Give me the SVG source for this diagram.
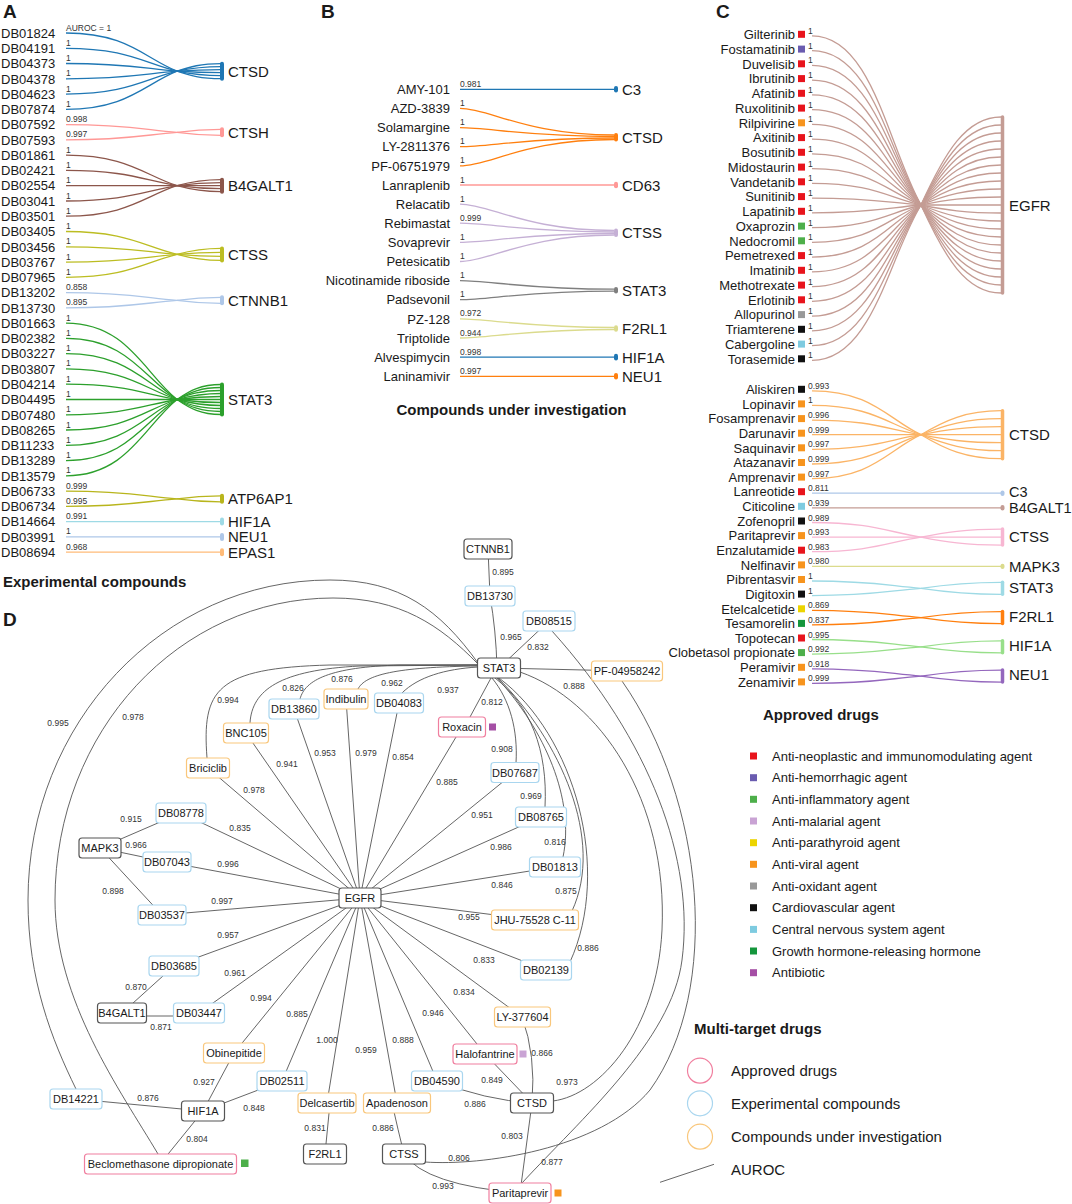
<svg xmlns="http://www.w3.org/2000/svg" width="1072" height="1204" viewBox="0 0 1072 1204">
<style>
text{font-family:'Liberation Sans',Arial,Helvetica,sans-serif;fill:#1a1a1a}
.pl{font-size:19px;font-weight:700}
.ti{font-size:15px;font-weight:700}
.s{font-size:13px}
.r{text-anchor:end}
.v{font-size:8.5px;fill:#333}
.tg{font-size:15px}
.ln path{fill:none;stroke-width:1.3}
.ln path.bar{fill:none;stroke-width:4;stroke-linecap:round}
.e path{fill:none;stroke:#555;stroke-width:0.9}
.el text{font-size:8.5px;text-anchor:middle;fill:#333}
.nd rect{fill:#fff;stroke-width:1.2}
.nd rect.sq{stroke:none}
.gn rect{stroke:#555}
.ex rect{stroke:#a9d6ef}
.iv rect{stroke:#f9c77c}
.ap rect{stroke:#f07f9f}
.nd text{font-size:11px;text-anchor:middle}
.c-red{fill:#e8141c}.c-pur{fill:#6a5cb0}.c-grn{fill:#4daf4a}.c-lpu{fill:#c9a3d4}.c-yel{fill:#ecd400}.c-org{fill:#f7941d}.c-gry{fill:#999}.c-blk{fill:#111}.c-lbl{fill:#7ecbe0}.c-dgr{fill:#14963c}.c-vio{fill:#a54fa5}
</style>

<!-- ================= PANEL A ================= -->
<g id="panelA">
<text class="pl" x="3" y="18">A</text>
<g class="ln" id="A-connectors">
<g stroke="#1f77b4">
<path d="M66 33C127 33 144 57.8 177 71.2C190 75.7 201 78.7 221 78.7"/>
<path d="M66 48.3C127 48.3 144 63.2 177 71.2C190 73.9 201 75.7 221 75.7"/>
<path d="M66 63.5C127 63.5 144 68.5 177 71.2C190 72.1 201 72.7 221 72.7"/>
<path d="M66 78.8C127 78.8 144 73.9 177 71.2C190 70.3 201 69.7 221 69.7"/>
<path d="M66 94.1C127 94.1 144 79.2 177 71.2C190 68.5 201 66.7 221 66.7"/>
<path d="M66 109.4C127 109.4 144 84.6 177 71.2C190 66.7 201 63.7 221 63.7"/>
<path class="bar" d="M222 63.7V78.7"/>
</g>
<g stroke="#ff9896">
<path d="M66 124.6C127 124.6 144 129.6 177 132.3C190 134.1 201 135.3 221 135.3"/>
<path d="M66 139.9C127 139.9 144 135 177 132.3C190 130.5 201 129.3 221 129.3"/>
<path class="bar" d="M222 129.3V135.3"/>
</g>
<g stroke="#8c564b">
<path d="M66 155.2C127 155.2 144 175 177 185.7C190 189.3 201 191.7 221 191.7"/>
<path d="M66 170.4C127 170.4 144 180.3 177 185.7C190 187.5 201 188.7 221 188.7"/>
<path d="M66 185.7H221"/>
<path d="M66 201C127 201 144 191.1 177 185.7C190 183.9 201 182.7 221 182.7"/>
<path d="M66 216.2C127 216.2 144 196.4 177 185.7C190 182.1 201 179.7 221 179.7"/>
<path class="bar" d="M222 179.7V191.7"/>
</g>
<g stroke="#bcbd22">
<path d="M66 231.5C127 231.5 144 246.4 177 254.4C190 258 201 260.4 221 260.4"/>
<path d="M66 246.8C127 246.8 144 251.7 177 254.4C190 255.6 201 256.4 221 256.4"/>
<path d="M66 262.1C127 262.1 144 257.1 177 254.4C190 253.2 201 252.4 221 252.4"/>
<path d="M66 277.3C127 277.3 144 262.4 177 254.4C190 250.8 201 248.4 221 248.4"/>
<path class="bar" d="M222 248.4V260.4"/>
</g>
<g stroke="#aec7e8">
<path d="M66 292.6C127 292.6 144 297.6 177 300.3C190 302.1 201 303.3 221 303.3"/>
<path d="M66 307.9C127 307.9 144 303 177 300.3C190 298.5 201 297.3 221 297.3"/>
<path class="bar" d="M222 297.3V303.3"/>
</g>
<g stroke="#2ca02c">
<path d="M66 323.1C127 323.1 144 372.8 177 399.5C190 408.5 201 414.5 221 414.5"/>
<path d="M66 338.4C127 338.4 144 378.1 177 399.5C190 406.7 201 411.5 221 411.5"/>
<path d="M66 353.7C127 353.7 144 383.5 177 399.5C190 404.9 201 408.5 221 408.5"/>
<path d="M66 368.9C127 368.9 144 388.8 177 399.5C190 403.1 201 405.5 221 405.5"/>
<path d="M66 384.2C127 384.2 144 394.1 177 399.5C190 401.3 201 402.5 221 402.5"/>
<path d="M66 399.5H221"/>
<path d="M66 414.8C127 414.8 144 404.9 177 399.5C190 397.7 201 396.5 221 396.5"/>
<path d="M66 430C127 430 144 410.2 177 399.5C190 395.9 201 393.5 221 393.5"/>
<path d="M66 445.3C127 445.3 144 415.5 177 399.5C190 394.1 201 390.5 221 390.5"/>
<path d="M66 460.6C127 460.6 144 420.9 177 399.5C190 392.3 201 387.5 221 387.5"/>
<path d="M66 475.8C127 475.8 144 426.2 177 399.5C190 390.5 201 384.5 221 384.5"/>
<path class="bar" d="M222 384.5V414.5"/>
</g>
<g stroke="#b8b51c">
<path d="M66 491.1C127 491.1 144 496.1 177 498.8C190 500.6 201 501.8 221 501.8"/>
<path d="M66 506.4C127 506.4 144 501.5 177 498.8C190 497 201 495.8 221 495.8"/>
<path class="bar" d="M222 495.8V501.8"/>
</g>
<g stroke="#9edae5"><path d="M66 521.6H221"/><path class="bar" d="M222 519.6V523.6"/></g>
<g stroke="#aec7e8"><path d="M66 536.9H221"/><path class="bar" d="M222 534.9V538.9"/></g>
<g stroke="#ffbb78"><path d="M66 552.2H221"/><path class="bar" d="M222 550.2V554.2"/></g>
</g>
<g id="A-sources">
<g id="a-DB01824"><text class="s" x="1" y="37.7">DB01824</text><text class="v" x="66" y="30.5">AUROC = 1</text></g>
<g id="a-DB04191"><text class="s" x="1" y="53">DB04191</text><text class="v" x="66" y="45.8">1</text></g>
<g id="a-DB04373"><text class="s" x="1" y="68.2">DB04373</text><text class="v" x="66" y="61">1</text></g>
<g id="a-DB04378"><text class="s" x="1" y="83.5">DB04378</text><text class="v" x="66" y="76.3">1</text></g>
<g id="a-DB04623"><text class="s" x="1" y="98.8">DB04623</text><text class="v" x="66" y="91.6">1</text></g>
<g id="a-DB07874"><text class="s" x="1" y="114.1">DB07874</text><text class="v" x="66" y="106.9">1</text></g>
<g id="a-DB07592"><text class="s" x="1" y="129.3">DB07592</text><text class="v" x="66" y="122.1">0.998</text></g>
<g id="a-DB07593"><text class="s" x="1" y="144.6">DB07593</text><text class="v" x="66" y="137.4">0.997</text></g>
<g id="a-DB01861"><text class="s" x="1" y="159.9">DB01861</text><text class="v" x="66" y="152.7">1</text></g>
<g id="a-DB02421"><text class="s" x="1" y="175.1">DB02421</text><text class="v" x="66" y="167.9">1</text></g>
<g id="a-DB02554"><text class="s" x="1" y="190.4">DB02554</text><text class="v" x="66" y="183.2">1</text></g>
<g id="a-DB03041"><text class="s" x="1" y="205.7">DB03041</text><text class="v" x="66" y="198.5">1</text></g>
<g id="a-DB03501"><text class="s" x="1" y="220.9">DB03501</text><text class="v" x="66" y="213.7">1</text></g>
<g id="a-DB03405"><text class="s" x="1" y="236.2">DB03405</text><text class="v" x="66" y="229">1</text></g>
<g id="a-DB03456"><text class="s" x="1" y="251.5">DB03456</text><text class="v" x="66" y="244.3">1</text></g>
<g id="a-DB03767"><text class="s" x="1" y="266.8">DB03767</text><text class="v" x="66" y="259.6">1</text></g>
<g id="a-DB07965"><text class="s" x="1" y="282">DB07965</text><text class="v" x="66" y="274.8">1</text></g>
<g id="a-DB13202"><text class="s" x="1" y="297.3">DB13202</text><text class="v" x="66" y="290.1">0.858</text></g>
<g id="a-DB13730"><text class="s" x="1" y="312.6">DB13730</text><text class="v" x="66" y="305.4">0.895</text></g>
<g id="a-DB01663"><text class="s" x="1" y="327.8">DB01663</text><text class="v" x="66" y="320.6">1</text></g>
<g id="a-DB02382"><text class="s" x="1" y="343.1">DB02382</text><text class="v" x="66" y="335.9">1</text></g>
<g id="a-DB03227"><text class="s" x="1" y="358.4">DB03227</text><text class="v" x="66" y="351.2">1</text></g>
<g id="a-DB03807"><text class="s" x="1" y="373.6">DB03807</text><text class="v" x="66" y="366.4">1</text></g>
<g id="a-DB04214"><text class="s" x="1" y="388.9">DB04214</text><text class="v" x="66" y="381.7">1</text></g>
<g id="a-DB04495"><text class="s" x="1" y="404.2">DB04495</text><text class="v" x="66" y="397">1</text></g>
<g id="a-DB07480"><text class="s" x="1" y="419.5">DB07480</text><text class="v" x="66" y="412.3">1</text></g>
<g id="a-DB08265"><text class="s" x="1" y="434.7">DB08265</text><text class="v" x="66" y="427.5">1</text></g>
<g id="a-DB11233"><text class="s" x="1" y="450">DB11233</text><text class="v" x="66" y="442.8">1</text></g>
<g id="a-DB13289"><text class="s" x="1" y="465.3">DB13289</text><text class="v" x="66" y="458.1">1</text></g>
<g id="a-DB13579"><text class="s" x="1" y="480.5">DB13579</text><text class="v" x="66" y="473.3">1</text></g>
<g id="a-DB06733"><text class="s" x="1" y="495.8">DB06733</text><text class="v" x="66" y="488.6">0.999</text></g>
<g id="a-DB06734"><text class="s" x="1" y="511.1">DB06734</text><text class="v" x="66" y="503.9">0.995</text></g>
<g id="a-DB14664"><text class="s" x="1" y="526.3">DB14664</text><text class="v" x="66" y="519.1">0.991</text></g>
<g id="a-DB03991"><text class="s" x="1" y="541.6">DB03991</text><text class="v" x="66" y="534.4">1</text></g>
<g id="a-DB08694"><text class="s" x="1" y="556.9">DB08694</text><text class="v" x="66" y="549.7">0.968</text></g>
</g>
<g id="A-targets">
<g id="a-CTSD"><text class="tg" x="228" y="76.7">CTSD</text></g>
<g id="a-CTSH"><text class="tg" x="228" y="137.8">CTSH</text></g>
<g id="a-B4GALT1"><text class="tg" x="228" y="191.2">B4GALT1</text></g>
<g id="a-CTSS"><text class="tg" x="228" y="259.9">CTSS</text></g>
<g id="a-CTNNB1"><text class="tg" x="228" y="305.8">CTNNB1</text></g>
<g id="a-STAT3"><text class="tg" x="228" y="405">STAT3</text></g>
<g id="a-ATP6AP1"><text class="tg" x="228" y="504.3">ATP6AP1</text></g>
<g id="a-HIF1A"><text class="tg" x="228" y="527.1">HIF1A</text></g>
<g id="a-NEU1"><text class="tg" x="228" y="542.4">NEU1</text></g>
<g id="a-EPAS1"><text class="tg" x="228" y="557.7">EPAS1</text></g>
</g>
<text class="ti" x="3" y="587">Experimental compounds</text>
</g>

<!-- ================= PANEL B ================= -->
<g id="panelB">
<text class="pl" x="321" y="18">B</text>
<g class="ln" id="B-connectors">
<g stroke="#1f77b4"><path d="M460 89.3H614"/><path class="bar" d="M616 88V90.6"/></g>
<g stroke="#ff7f0e">
<path d="M460 108.4C490 108.4 525 135 614 135"/>
<path d="M460 127.6C490 127.6 525 136.5 614 136.5"/>
<path d="M460 146.7C490 146.7 525 138 614 138"/>
<path d="M460 165.8C490 165.8 525 139.5 614 139.5"/>
<path class="bar" d="M616 135V139.5"/>
</g>
<g stroke="#ff9896"><path d="M460 185H614"/><path class="bar" d="M616 183.7V186.3"/></g>
<g stroke="#c5b0d5">
<path d="M460 204.1C490 204.1 525 230.5 614 230.5"/>
<path d="M460 223.2C490 223.2 525 232 614 232"/>
<path d="M460 242.3C490 242.3 525 233.5 614 233.5"/>
<path d="M460 261.5C490 261.5 525 235 614 235"/>
<path class="bar" d="M616 230.5V235"/>
</g>
<g stroke="#7f7f7f">
<path d="M460 280.6C490 280.6 525 289.2 614 289.2"/>
<path d="M460 299.7C490 299.7 525 291.2 614 291.2"/>
<path class="bar" d="M616 289V291.4"/>
</g>
<g stroke="#dbdb8d">
<path d="M460 318.9C490 318.9 525 327.5 614 327.5"/>
<path d="M460 338C490 338 525 329.5 614 329.5"/>
<path class="bar" d="M616 327.3V329.7"/>
</g>
<g stroke="#1f77b4"><path d="M460 357.1H614"/><path class="bar" d="M616 355.8V358.4"/></g>
<g stroke="#ff7f0e"><path d="M460 376.3H614"/><path class="bar" d="M616 375V377.6"/></g>
</g>
<g id="B-sources">
<g id="b-AMY-101"><text class="s r" x="450" y="94">AMY-101</text><text class="v" x="460" y="86.8">0.981</text></g>
<g id="b-AZD-3839"><text class="s r" x="450" y="113.1">AZD-3839</text><text class="v" x="460" y="105.9">1</text></g>
<g id="b-Solamargine"><text class="s r" x="450" y="132.3">Solamargine</text><text class="v" x="460" y="125.1">1</text></g>
<g id="b-LY-2811376"><text class="s r" x="450" y="151.4">LY-2811376</text><text class="v" x="460" y="144.2">1</text></g>
<g id="b-PF-06751979"><text class="s r" x="450" y="170.5">PF-06751979</text><text class="v" x="460" y="163.3">1</text></g>
<g id="b-Lanraplenib"><text class="s r" x="450" y="189.7">Lanraplenib</text><text class="v" x="460" y="182.5">1</text></g>
<g id="b-Relacatib"><text class="s r" x="450" y="208.8">Relacatib</text><text class="v" x="460" y="201.6">1</text></g>
<g id="b-Rebimastat"><text class="s r" x="450" y="227.9">Rebimastat</text><text class="v" x="460" y="220.7">0.999</text></g>
<g id="b-Sovaprevir"><text class="s r" x="450" y="247">Sovaprevir</text><text class="v" x="460" y="239.8">1</text></g>
<g id="b-Petesicatib"><text class="s r" x="450" y="266.2">Petesicatib</text><text class="v" x="460" y="259">1</text></g>
<g id="b-Nicotinamide"><text class="s r" x="450" y="285.3">Nicotinamide riboside</text><text class="v" x="460" y="278.1">1</text></g>
<g id="b-Padsevonil"><text class="s r" x="450" y="304.4">Padsevonil</text><text class="v" x="460" y="297.2">1</text></g>
<g id="b-PZ-128"><text class="s r" x="450" y="323.6">PZ-128</text><text class="v" x="460" y="316.4">0.972</text></g>
<g id="b-Triptolide"><text class="s r" x="450" y="342.7">Triptolide</text><text class="v" x="460" y="335.5">0.944</text></g>
<g id="b-Alvespimycin"><text class="s r" x="450" y="361.8">Alvespimycin</text><text class="v" x="460" y="354.6">0.998</text></g>
<g id="b-Laninamivir"><text class="s r" x="450" y="381">Laninamivir</text><text class="v" x="460" y="373.8">0.997</text></g>
</g>
<g id="B-targets">
<g id="b-C3"><text class="tg" x="622" y="95">C3</text></g>
<g id="b-CTSD"><text class="tg" x="622" y="143">CTSD</text></g>
<g id="b-CD63"><text class="tg" x="622" y="190.5">CD63</text></g>
<g id="b-CTSS"><text class="tg" x="622" y="238.3">CTSS</text></g>
<g id="b-STAT3"><text class="tg" x="622" y="295.7">STAT3</text></g>
<g id="b-F2RL1"><text class="tg" x="622" y="334">F2RL1</text></g>
<g id="b-HIF1A"><text class="tg" x="622" y="363">HIF1A</text></g>
<g id="b-NEU1"><text class="tg" x="622" y="382">NEU1</text></g>
</g>
<text class="ti" x="511.5" y="415" text-anchor="middle">Compounds under investigation</text>
</g>

<!-- ================= PANEL C ================= -->
<g id="panelC">
<text class="pl" x="716" y="18">C</text>
<g class="ln" id="C-connectors">
<g stroke="#c49c94" style="stroke-width:1.2">
<path d="M812 35.8C872 35.8 888 145.8 921 205C945 257.8 966 293 1001 293"/>
<path d="M812 50.6C872 50.6 888 151 921 205C945 253 966 285 1001 285"/>
<path d="M812 65.3C872 65.3 888 156.1 921 205C945 248.2 966 277 1001 277"/>
<path d="M812 80.1C872 80.1 888 161.3 921 205C945 243.4 966 269 1001 269"/>
<path d="M812 94.8C872 94.8 888 166.4 921 205C945 238.6 966 261 1001 261"/>
<path d="M812 109.6C872 109.6 888 171.6 921 205C945 233.8 966 253 1001 253"/>
<path d="M812 124.3C872 124.3 888 176.8 921 205C945 229 966 245 1001 245"/>
<path d="M812 139.1C872 139.1 888 181.9 921 205C945 224.2 966 237 1001 237"/>
<path d="M812 153.8C872 153.8 888 187.1 921 205C945 219.4 966 229 1001 229"/>
<path d="M812 168.6C872 168.6 888 192.3 921 205C945 214.6 966 221 1001 221"/>
<path d="M812 183.3C872 183.3 888 197.4 921 205C945 209.8 966 213 1001 213"/>
<path d="M812 198.1C872 198.1 888 202.6 921 205C945 205 966 205 1001 205"/>
<path d="M812 212.8C872 212.8 888 207.7 921 205C945 200.2 966 197 1001 197"/>
<path d="M812 227.6C872 227.6 888 212.9 921 205C945 195.4 966 189 1001 189"/>
<path d="M812 242.3C872 242.3 888 218.1 921 205C945 190.6 966 181 1001 181"/>
<path d="M812 257.1C872 257.1 888 223.2 921 205C945 185.8 966 173 1001 173"/>
<path d="M812 271.8C872 271.8 888 228.4 921 205C945 181 966 165 1001 165"/>
<path d="M812 286.6C872 286.6 888 233.6 921 205C945 176.2 966 157 1001 157"/>
<path d="M812 301.3C872 301.3 888 238.7 921 205C945 171.4 966 149 1001 149"/>
<path d="M812 316.1C872 316.1 888 243.9 921 205C945 166.6 966 141 1001 141"/>
<path d="M812 330.8C872 330.8 888 249 921 205C945 161.8 966 133 1001 133"/>
<path d="M812 345.6C872 345.6 888 254.2 921 205C945 157 966 125 1001 125"/>
<path d="M812 360.3C872 360.3 888 259.4 921 205C945 152.2 966 117 1001 117"/>
<path class="bar" style="stroke-width:3.5" d="M1002.5 117V293"/>
</g>
<g stroke="#fbb466">
<path d="M812 390.8C872 390.8 888 419.3 921 434.7C945 449.1 966 458.7 1001 458.7"/>
<path d="M812 405.4C872 405.4 888 424.4 921 434.7C945 444.3 966 450.7 1001 450.7"/>
<path d="M812 420.1C872 420.1 888 429.6 921 434.7C945 439.5 966 442.7 1001 442.7"/>
<path d="M812 434.7H1001"/>
<path d="M812 449.3C872 449.3 888 439.8 921 434.7C945 429.9 966 426.7 1001 426.7"/>
<path d="M812 464C872 464 888 445 921 434.7C945 425.1 966 418.7 1001 418.7"/>
<path d="M812 478.6C872 478.6 888 450.1 921 434.7C945 420.3 966 410.7 1001 410.7"/>
<path class="bar" style="stroke-width:3.5" d="M1002.5 410.7V458.7"/>
</g>
<g stroke="#aec7e8"><path d="M812 493.2H1001"/><path class="bar" d="M1002.5 492.5V493.9"/></g>
<g stroke="#c49c94"><path d="M812 507.8H1001"/><path class="bar" d="M1002.5 507.1V508.5"/></g>
<g stroke="#f7b6d2">
<path d="M812 522.5C872 522.5 888 532 921 537.1C945 541.9 966 545.1 1001 545.1"/>
<path d="M812 537.1H1001"/>
<path d="M812 551.7C872 551.7 888 542.2 921 537.1C945 532.3 966 529.1 1001 529.1"/>
<path class="bar" style="stroke-width:3.5" d="M1002.5 529.1V545.1"/>
</g>
<g stroke="#dbdb8d"><path d="M812 566.4H1001"/><path class="bar" d="M1002.5 565.7V567.1"/></g>
<g stroke="#9edae5">
<path d="M812 581C872 581 888 585.7 921 588.3C945 591.9 966 594.3 1001 594.3"/>
<path d="M812 595.6C872 595.6 888 590.9 921 588.3C945 584.7 966 582.3 1001 582.3"/>
<path class="bar" style="stroke-width:3.5" d="M1002.5 582.3V594.3"/>
</g>
<g stroke="#ff7f0e">
<path d="M812 610.3C872 610.3 888 615 921 617.6C945 621.2 966 623.6 1001 623.6"/>
<path d="M812 624.9C872 624.9 888 620.2 921 617.6C945 614 966 611.6 1001 611.6"/>
<path class="bar" style="stroke-width:3.5" d="M1002.5 611.6V623.6"/>
</g>
<g stroke="#98df8a">
<path d="M812 639.5C872 639.5 888 644.2 921 646.8C945 650.4 966 652.8 1001 652.8"/>
<path d="M812 654.1C872 654.1 888 649.4 921 646.8C945 643.2 966 640.8 1001 640.8"/>
<path class="bar" style="stroke-width:3.5" d="M1002.5 640.8V652.8"/>
</g>
<g stroke="#9467bd">
<path d="M812 668.8C872 668.8 888 673.5 921 676.1C945 679.7 966 682.1 1001 682.1"/>
<path d="M812 683.4C872 683.4 888 678.7 921 676.1C945 672.5 966 670.1 1001 670.1"/>
<path class="bar" style="stroke-width:3.5" d="M1002.5 670.1V682.1"/>
</g>
</g>
<g id="C-sources">
<g id="c-Gilterinib"><text class="s r" x="795" y="39">Gilterinib</text><rect class="c-red" x="798" y="30.8" width="7" height="7"/><text class="v" x="808" y="33.8">1</text></g>
<g id="c-Fostamatinib"><text class="s r" x="795" y="53.8">Fostamatinib</text><rect class="c-pur" x="798" y="45.6" width="7" height="7"/><text class="v" x="808" y="48.6">1</text></g>
<g id="c-Duvelisib"><text class="s r" x="795" y="68.5">Duvelisib</text><rect class="c-red" x="798" y="60.3" width="7" height="7"/><text class="v" x="808" y="63.3">1</text></g>
<g id="c-Ibrutinib"><text class="s r" x="795" y="83.3">Ibrutinib</text><rect class="c-red" x="798" y="75.1" width="7" height="7"/><text class="v" x="808" y="78.1">1</text></g>
<g id="c-Afatinib"><text class="s r" x="795" y="98">Afatinib</text><rect class="c-red" x="798" y="89.8" width="7" height="7"/><text class="v" x="808" y="92.8">1</text></g>
<g id="c-Ruxolitinib"><text class="s r" x="795" y="112.8">Ruxolitinib</text><rect class="c-red" x="798" y="104.6" width="7" height="7"/><text class="v" x="808" y="107.6">1</text></g>
<g id="c-Rilpivirine"><text class="s r" x="795" y="127.5">Rilpivirine</text><rect class="c-org" x="798" y="119.3" width="7" height="7"/><text class="v" x="808" y="122.3">1</text></g>
<g id="c-Axitinib"><text class="s r" x="795" y="142.3">Axitinib</text><rect class="c-red" x="798" y="134.1" width="7" height="7"/><text class="v" x="808" y="137.1">1</text></g>
<g id="c-Bosutinib"><text class="s r" x="795" y="157">Bosutinib</text><rect class="c-red" x="798" y="148.8" width="7" height="7"/><text class="v" x="808" y="151.8">1</text></g>
<g id="c-Midostaurin"><text class="s r" x="795" y="171.8">Midostaurin</text><rect class="c-red" x="798" y="163.6" width="7" height="7"/><text class="v" x="808" y="166.6">1</text></g>
<g id="c-Vandetanib"><text class="s r" x="795" y="186.5">Vandetanib</text><rect class="c-red" x="798" y="178.3" width="7" height="7"/><text class="v" x="808" y="181.3">1</text></g>
<g id="c-Sunitinib"><text class="s r" x="795" y="201.3">Sunitinib</text><rect class="c-red" x="798" y="193.1" width="7" height="7"/><text class="v" x="808" y="196.1">1</text></g>
<g id="c-Lapatinib"><text class="s r" x="795" y="216">Lapatinib</text><rect class="c-red" x="798" y="207.8" width="7" height="7"/><text class="v" x="808" y="210.8">1</text></g>
<g id="c-Oxaprozin"><text class="s r" x="795" y="230.8">Oxaprozin</text><rect class="c-grn" x="798" y="222.6" width="7" height="7"/><text class="v" x="808" y="225.6">1</text></g>
<g id="c-Nedocromil"><text class="s r" x="795" y="245.5">Nedocromil</text><rect class="c-grn" x="798" y="237.3" width="7" height="7"/><text class="v" x="808" y="240.3">1</text></g>
<g id="c-Pemetrexed"><text class="s r" x="795" y="260.3">Pemetrexed</text><rect class="c-red" x="798" y="252.1" width="7" height="7"/><text class="v" x="808" y="255.1">1</text></g>
<g id="c-Imatinib"><text class="s r" x="795" y="275">Imatinib</text><rect class="c-red" x="798" y="266.8" width="7" height="7"/><text class="v" x="808" y="269.8">1</text></g>
<g id="c-Methotrexate"><text class="s r" x="795" y="289.8">Methotrexate</text><rect class="c-red" x="798" y="281.6" width="7" height="7"/><text class="v" x="808" y="284.6">1</text></g>
<g id="c-Erlotinib"><text class="s r" x="795" y="304.5">Erlotinib</text><rect class="c-red" x="798" y="296.3" width="7" height="7"/><text class="v" x="808" y="299.3">1</text></g>
<g id="c-Allopurinol"><text class="s r" x="795" y="319.3">Allopurinol</text><rect class="c-gry" x="798" y="311.1" width="7" height="7"/><text class="v" x="808" y="314.1">1</text></g>
<g id="c-Triamterene"><text class="s r" x="795" y="334">Triamterene</text><rect class="c-blk" x="798" y="325.8" width="7" height="7"/><text class="v" x="808" y="328.8">1</text></g>
<g id="c-Cabergoline"><text class="s r" x="795" y="348.8">Cabergoline</text><rect class="c-lbl" x="798" y="340.6" width="7" height="7"/><text class="v" x="808" y="343.6">1</text></g>
<g id="c-Torasemide"><text class="s r" x="795" y="363.5">Torasemide</text><rect class="c-blk" x="798" y="355.3" width="7" height="7"/><text class="v" x="808" y="358.3">1</text></g>
<g id="c-Aliskiren"><text class="s r" x="795" y="394">Aliskiren</text><rect class="c-blk" x="798" y="385.8" width="7" height="7"/><text class="v" x="808" y="388.8">0.993</text></g>
<g id="c-Lopinavir"><text class="s r" x="795" y="408.6">Lopinavir</text><rect class="c-org" x="798" y="400.4" width="7" height="7"/><text class="v" x="808" y="403.4">1</text></g>
<g id="c-Fosamprenavir"><text class="s r" x="795" y="423.3">Fosamprenavir</text><rect class="c-org" x="798" y="415.1" width="7" height="7"/><text class="v" x="808" y="418.1">0.996</text></g>
<g id="c-Darunavir"><text class="s r" x="795" y="437.9">Darunavir</text><rect class="c-org" x="798" y="429.7" width="7" height="7"/><text class="v" x="808" y="432.7">0.999</text></g>
<g id="c-Saquinavir"><text class="s r" x="795" y="452.5">Saquinavir</text><rect class="c-org" x="798" y="444.3" width="7" height="7"/><text class="v" x="808" y="447.3">0.997</text></g>
<g id="c-Atazanavir"><text class="s r" x="795" y="467.2">Atazanavir</text><rect class="c-org" x="798" y="459" width="7" height="7"/><text class="v" x="808" y="462">0.999</text></g>
<g id="c-Amprenavir"><text class="s r" x="795" y="481.8">Amprenavir</text><rect class="c-org" x="798" y="473.6" width="7" height="7"/><text class="v" x="808" y="476.6">0.997</text></g>
<g id="c-Lanreotide"><text class="s r" x="795" y="496.4">Lanreotide</text><rect class="c-red" x="798" y="488.2" width="7" height="7"/><text class="v" x="808" y="491.2">0.811</text></g>
<g id="c-Citicoline"><text class="s r" x="795" y="511">Citicoline</text><rect class="c-lbl" x="798" y="502.8" width="7" height="7"/><text class="v" x="808" y="505.8">0.939</text></g>
<g id="c-Zofenopril"><text class="s r" x="795" y="525.7">Zofenopril</text><rect class="c-blk" x="798" y="517.5" width="7" height="7"/><text class="v" x="808" y="520.5">0.989</text></g>
<g id="c-Paritaprevir"><text class="s r" x="795" y="540.3">Paritaprevir</text><rect class="c-org" x="798" y="532.1" width="7" height="7"/><text class="v" x="808" y="535.1">0.993</text></g>
<g id="c-Enzalutamide"><text class="s r" x="795" y="554.9">Enzalutamide</text><rect class="c-red" x="798" y="546.7" width="7" height="7"/><text class="v" x="808" y="549.7">0.983</text></g>
<g id="c-Nelfinavir"><text class="s r" x="795" y="569.6">Nelfinavir</text><rect class="c-org" x="798" y="561.4" width="7" height="7"/><text class="v" x="808" y="564.4">0.980</text></g>
<g id="c-Pibrentasvir"><text class="s r" x="795" y="584.2">Pibrentasvir</text><rect class="c-org" x="798" y="576" width="7" height="7"/><text class="v" x="808" y="579">1</text></g>
<g id="c-Digitoxin"><text class="s r" x="795" y="598.8">Digitoxin</text><rect class="c-blk" x="798" y="590.6" width="7" height="7"/><text class="v" x="808" y="593.6">1</text></g>
<g id="c-Etelcalcetide"><text class="s r" x="795" y="613.5">Etelcalcetide</text><rect class="c-yel" x="798" y="605.3" width="7" height="7"/><text class="v" x="808" y="608.3">0.869</text></g>
<g id="c-Tesamorelin"><text class="s r" x="795" y="628.1">Tesamorelin</text><rect class="c-dgr" x="798" y="619.9" width="7" height="7"/><text class="v" x="808" y="622.9">0.837</text></g>
<g id="c-Topotecan"><text class="s r" x="795" y="642.7">Topotecan</text><rect class="c-red" x="798" y="634.5" width="7" height="7"/><text class="v" x="808" y="637.5">0.995</text></g>
<g id="c-Clobetasol"><text class="s r" x="795" y="657.3">Clobetasol propionate</text><rect class="c-grn" x="798" y="649.1" width="7" height="7"/><text class="v" x="808" y="652.1">0.992</text></g>
<g id="c-Peramivir"><text class="s r" x="795" y="672">Peramivir</text><rect class="c-org" x="798" y="663.8" width="7" height="7"/><text class="v" x="808" y="666.8">0.918</text></g>
<g id="c-Zenamivir"><text class="s r" x="795" y="686.6">Zenamivir</text><rect class="c-org" x="798" y="678.4" width="7" height="7"/><text class="v" x="808" y="681.4">0.999</text></g>
</g>
<g id="C-targets">
<g id="c-EGFR"><text class="tg" x="1009" y="210.5">EGFR</text></g>
<g id="c-CTSD"><text class="tg" x="1009" y="440">CTSD</text></g>
<g id="c-C3"><text class="tg" x="1009" y="496.5" style="font-size:14.5px">C3</text></g>
<g id="c-B4GALT1"><text class="tg" x="1009" y="512.5" style="font-size:14.5px">B4GALT1</text></g>
<g id="c-CTSS"><text class="tg" x="1009" y="542">CTSS</text></g>
<g id="c-MAPK3"><text class="tg" x="1009" y="571.5">MAPK3</text></g>
<g id="c-STAT3"><text class="tg" x="1009" y="592.5">STAT3</text></g>
<g id="c-F2RL1"><text class="tg" x="1009" y="622">F2RL1</text></g>
<g id="c-HIF1A"><text class="tg" x="1009" y="651">HIF1A</text></g>
<g id="c-NEU1"><text class="tg" x="1009" y="679.5">NEU1</text></g>
</g>
<text class="ti" x="763" y="720">Approved drugs</text>
<g id="C-legend">
<rect class="c-red" x="750" y="752.5" width="7" height="7"/><text class="s" x="772" y="760.5">Anti-neoplastic and immunomodulating agent</text>
<rect class="c-pur" x="750" y="774.2" width="7" height="7"/><text class="s" x="772" y="782.2">Anti-hemorrhagic agent</text>
<rect class="c-grn" x="750" y="795.8" width="7" height="7"/><text class="s" x="772" y="803.8">Anti-inflammatory agent</text>
<rect class="c-lpu" x="750" y="817.5" width="7" height="7"/><text class="s" x="772" y="825.5">Anti-malarial agent</text>
<rect class="c-yel" x="750" y="839.2" width="7" height="7"/><text class="s" x="772" y="847.2">Anti-parathyroid agent</text>
<rect class="c-org" x="750" y="860.8" width="7" height="7"/><text class="s" x="772" y="868.8">Anti-viral agent</text>
<rect class="c-gry" x="750" y="882.5" width="7" height="7"/><text class="s" x="772" y="890.5">Anti-oxidant agent</text>
<rect class="c-blk" x="750" y="904.2" width="7" height="7"/><text class="s" x="772" y="912.2">Cardiovascular agent</text>
<rect class="c-lbl" x="750" y="925.9" width="7" height="7"/><text class="s" x="772" y="933.9">Central nervous system agent</text>
<rect class="c-dgr" x="750" y="947.5" width="7" height="7"/><text class="s" x="772" y="955.5">Growth hormone-releasing hormone</text>
<rect class="c-vio" x="750" y="969.2" width="7" height="7"/><text class="s" x="772" y="977.2">Antibiotic</text>
</g>
</g>

<!-- ================= PANEL D ================= -->
<g id="panelD">
<text class="pl" x="3" y="626">D</text>
<g class="e" id="D-connectors">
<path d="M478 663C440 610 400 580 330 580C163 580 28 723 28 900C28 980 52 1040 76 1089"/>
<path d="M478 664C440 625 400 598 333 598C180 598 55 730 55 900C55 1000 120 1090 158 1154"/>
<path d="M207 758C202 690 215 668 330 665L478 665"/>
<path d="M250 723C252 690 280 670 360 666L478 665"/>
<path d="M300 699C305 680 330 667 400 665L478 665"/>
<path d="M358 689C365 675 395 667 478 666"/>
<path d="M402 693C418 677 445 669 478 667"/>
<path d="M488 549L490 596"/>
<path d="M490 596Q496 630 497 668"/>
<path d="M549 621L499 668"/>
<path d="M499 668L627 671"/>
<path d="M491 678L470 717"/>
<path d="M492 678C510 700 518 730 516 763"/>
<path d="M495 678C530 705 548 750 545 807"/>
<path d="M497 678C545 730 575 800 563 857"/>
<path d="M498 678C560 740 605 840 572 911"/>
<path d="M499 678C575 735 612 870 570 962"/>
<path d="M520 672C600 700 668 800 662 930C657 1030 600 1095 553 1101"/>
<path d="M552 631C650 740 695 860 682 960C672 1040 580 1120 522 1183"/>
<path d="M622 681C705 800 722 990 650 1090C600 1150 480 1166 425 1162"/>
<path d="M360 898L208 768"/>
<path d="M360 898L246 733"/>
<path d="M360 898L294 709"/>
<path d="M360 898L346 699"/>
<path d="M360 898L399 703"/>
<path d="M360 898L462 727"/>
<path d="M360 898L515 772"/>
<path d="M360 898L541 817"/>
<path d="M360 898L555 867"/>
<path d="M360 898L535 920"/>
<path d="M360 898L546 970"/>
<path d="M360 898L522 1017"/>
<path d="M360 898L485 1054"/>
<path d="M360 898L437 1081"/>
<path d="M360 898L397 1103"/>
<path d="M360 898L327 1103"/>
<path d="M360 898L282 1081"/>
<path d="M360 898L234 1053"/>
<path d="M360 898L199 1013"/>
<path d="M360 898L174 966"/>
<path d="M360 898L162 915"/>
<path d="M360 898L167 862"/>
<path d="M360 898L181 813"/>
<path d="M100 848L181 813"/>
<path d="M100 848L167 862"/>
<path d="M100 848L162 915"/>
<path d="M174 966L122 1013"/>
<path d="M122 1016L199 1016"/>
<path d="M234 1053L203 1111"/>
<path d="M76 1099L203 1111"/>
<path d="M282 1081L203 1111"/>
<path d="M203 1111L160 1164"/>
<path d="M330 1103L325 1154"/>
<path d="M392 1103Q398 1130 404 1154"/>
<path d="M437 1081Q485 1100 532 1103"/>
<path d="M485 1054L532 1103"/>
<path d="M522 1017Q536 1055 532 1103"/>
<path d="M532 1103L520 1193"/>
<path d="M404 1154Q425 1185 520 1193"/>
</g>
<g class="el" id="D-edge-labels">
<text x="503" y="575">0.895</text><text x="511" y="640">0.965</text><text x="538" y="650">0.832</text><text x="574" y="689">0.888</text>
<text x="448" y="693">0.937</text><text x="392" y="686">0.962</text><text x="342" y="682">0.876</text><text x="293" y="691">0.826</text><text x="228" y="703">0.994</text>
<text x="58" y="726">0.995</text><text x="133" y="720">0.978</text>
<text x="492" y="705">0.812</text><text x="502" y="752">0.908</text><text x="531" y="799">0.969</text><text x="555" y="845">0.816</text><text x="566" y="894">0.875</text><text x="588" y="951">0.886</text>
<text x="254" y="793">0.978</text><text x="287" y="767">0.941</text><text x="325" y="756">0.953</text><text x="366" y="756">0.979</text><text x="403" y="760">0.854</text>
<text x="447" y="785">0.885</text><text x="482" y="818">0.951</text><text x="501" y="850">0.986</text><text x="502" y="888">0.846</text><text x="469" y="920">0.955</text>
<text x="484" y="963">0.833</text><text x="464" y="995">0.834</text><text x="433" y="1016">0.946</text><text x="403" y="1043">0.888</text><text x="366" y="1053">0.959</text>
<text x="327" y="1043">1.000</text><text x="297" y="1017">0.885</text><text x="261" y="1001">0.994</text><text x="235" y="976">0.961</text><text x="228" y="938">0.957</text>
<text x="222" y="904">0.997</text><text x="228" y="867">0.996</text><text x="240" y="831">0.835</text>
<text x="131" y="822">0.915</text><text x="136" y="848">0.966</text><text x="113" y="894">0.898</text><text x="136" y="990">0.870</text><text x="161" y="1030">0.871</text>
<text x="204" y="1085">0.927</text><text x="148" y="1101">0.876</text><text x="254" y="1111">0.848</text><text x="197" y="1142">0.804</text><text x="315" y="1131">0.831</text>
<text x="383" y="1131">0.886</text><text x="475" y="1107">0.886</text><text x="492" y="1083">0.849</text><text x="542" y="1056">0.866</text><text x="512" y="1139">0.803</text>
<text x="443" y="1189">0.993</text><text x="459" y="1161">0.806</text><text x="567" y="1085">0.973</text><text x="552" y="1165">0.877</text>
</g>
<g id="D-nodes">
<g id="d-CTNNB1" class="nd gn"><rect x="464" y="539" width="48" height="20" rx="3"/><text x="488" y="553">CTNNB1</text></g>
<g id="d-DB13730" class="nd ex"><rect x="465" y="586" width="50" height="20" rx="3"/><text x="490" y="600">DB13730</text></g>
<g id="d-DB08515" class="nd ex"><rect x="523" y="611" width="52" height="20" rx="3"/><text x="549" y="625">DB08515</text></g>
<g id="d-STAT3" class="nd gn"><rect x="477.5" y="658" width="43" height="20" rx="3"/><text x="499" y="672">STAT3</text></g>
<g id="d-PF-04958242" class="nd iv"><rect x="591.5" y="661" width="71" height="20" rx="3"/><text x="627" y="675">PF-04958242</text></g>
<g id="d-DB04083" class="nd ex"><rect x="374.5" y="693" width="49" height="20" rx="3"/><text x="399" y="707">DB04083</text></g>
<g id="d-Indibulin" class="nd iv"><rect x="324" y="689" width="44" height="20" rx="3"/><text x="346" y="703">Indibulin</text></g>
<g id="d-DB13860" class="nd ex"><rect x="269" y="699" width="50" height="20" rx="3"/><text x="294" y="713">DB13860</text></g>
<g id="d-BNC105" class="nd iv"><rect x="223.5" y="723" width="45" height="20" rx="3"/><text x="246" y="737">BNC105</text></g>
<g id="d-Briciclib" class="nd iv"><rect x="186.5" y="758" width="43" height="20" rx="3"/><text x="208" y="772">Briciclib</text></g>
<g id="d-DB08778" class="nd ex"><rect x="156" y="803" width="50" height="20" rx="3"/><text x="181" y="817">DB08778</text></g>
<g id="d-MAPK3" class="nd gn"><rect x="79" y="838" width="42" height="20" rx="3"/><text x="100" y="852">MAPK3</text></g>
<g id="d-DB07043" class="nd ex"><rect x="143" y="852" width="48" height="20" rx="3"/><text x="167" y="866">DB07043</text></g>
<g id="d-Roxacin" class="nd ap"><rect x="438.5" y="717" width="47" height="20" rx="3"/><text x="462" y="731">Roxacin</text><rect class="sq" style="fill:#a54fa5" x="489" y="723.5" width="7" height="7"/></g>
<g id="d-DB07687" class="nd ex"><rect x="491" y="762.5" width="48" height="20" rx="3"/><text x="515" y="776.5">DB07687</text></g>
<g id="d-DB08765" class="nd ex"><rect x="515.5" y="807" width="51" height="20" rx="3"/><text x="541" y="821">DB08765</text></g>
<g id="d-DB01813" class="nd ex"><rect x="529.5" y="857" width="51" height="20" rx="3"/><text x="555" y="871">DB01813</text></g>
<g id="d-EGFR" class="nd gn"><rect x="339" y="888" width="42" height="20" rx="3"/><text x="360" y="902">EGFR</text></g>
<g id="d-JHU-75528" class="nd iv"><rect x="491.5" y="910" width="87" height="20" rx="3"/><text x="535" y="924">JHU-75528 C-11</text></g>
<g id="d-DB03537" class="nd ex"><rect x="138" y="905" width="48" height="20" rx="3"/><text x="162" y="919">DB03537</text></g>
<g id="d-DB03685" class="nd ex"><rect x="149" y="956" width="50" height="20" rx="3"/><text x="174" y="970">DB03685</text></g>
<g id="d-B4GALT1" class="nd gn"><rect x="97.5" y="1003" width="49" height="20" rx="3"/><text x="122" y="1017">B4GALT1</text></g>
<g id="d-DB03447" class="nd ex"><rect x="173.5" y="1003" width="51" height="20" rx="3"/><text x="199" y="1017">DB03447</text></g>
<g id="d-Obinepitide" class="nd iv"><rect x="203.5" y="1043" width="61" height="20" rx="3"/><text x="234" y="1057">Obinepitide</text></g>
<g id="d-DB02511" class="nd ex"><rect x="257" y="1071" width="50" height="20" rx="3"/><text x="282" y="1085">DB02511</text></g>
<g id="d-DB14221" class="nd ex"><rect x="50" y="1089" width="52" height="20" rx="3"/><text x="76" y="1103">DB14221</text></g>
<g id="d-HIF1A" class="nd gn"><rect x="181.5" y="1101" width="43" height="20" rx="3"/><text x="203" y="1115">HIF1A</text></g>
<g id="d-Delcasertib" class="nd iv"><rect x="298" y="1093" width="58" height="20" rx="3"/><text x="327" y="1107">Delcasertib</text></g>
<g id="d-F2RL1" class="nd gn"><rect x="303.5" y="1144" width="43" height="20" rx="3"/><text x="325" y="1158">F2RL1</text></g>
<g id="d-Beclomethasone" class="nd ap"><rect x="84.5" y="1154" width="152" height="20" rx="3"/><text x="160.5" y="1168">Beclomethasone dipropionate</text><rect class="sq" style="fill:#4daf4a" x="241" y="1159.5" width="7.5" height="7.5"/></g>
<g id="d-Apadenoson" class="nd iv"><rect x="363.5" y="1093" width="67" height="20" rx="3"/><text x="397" y="1107">Apadenoson</text></g>
<g id="d-CTSS" class="nd gn"><rect x="382.5" y="1144" width="43" height="20" rx="3"/><text x="404" y="1158">CTSS</text></g>
<g id="d-DB04590" class="nd ex"><rect x="411.5" y="1071" width="51" height="20" rx="3"/><text x="437" y="1085">DB04590</text></g>
<g id="d-Halofantrine" class="nd ap"><rect x="453" y="1044" width="64" height="20" rx="3"/><text x="485" y="1058">Halofantrine</text><rect class="sq" style="fill:#c9a3d4" x="519.5" y="1050.5" width="7" height="7"/></g>
<g id="d-LY-377604" class="nd iv"><rect x="494.5" y="1007" width="56" height="20" rx="3"/><text x="522.5" y="1021">LY-377604</text></g>
<g id="d-DB02139" class="nd ex"><rect x="520.5" y="960" width="51" height="20" rx="3"/><text x="546" y="974">DB02139</text></g>
<g id="d-CTSD" class="nd gn"><rect x="510.5" y="1093" width="43" height="20" rx="3"/><text x="532" y="1107">CTSD</text></g>
<g id="d-Paritaprevir" class="nd ap"><rect x="489" y="1183" width="62" height="20" rx="3"/><text x="520" y="1197">Paritaprevir</text><rect class="sq" style="fill:#f7941d" x="554.5" y="1189.5" width="7" height="7"/></g>
</g>
<g id="D-legend">
<text class="ti" x="694" y="1033.5">Multi-target drugs</text>
<circle cx="700" cy="1070.7" r="12.5" fill="none" stroke="#f07f9f" stroke-width="1.2"/>
<text class="tg" x="731" y="1076">Approved drugs</text>
<circle cx="700" cy="1103.3" r="12.5" fill="none" stroke="#a9d6ef" stroke-width="1.2"/>
<text class="tg" x="731" y="1108.8">Experimental compounds</text>
<circle cx="700" cy="1136.7" r="12.5" fill="none" stroke="#f9c77c" stroke-width="1.2"/>
<text class="tg" x="731" y="1142.2">Compounds under investigation</text>
<path d="M660 1182.3L714 1164.3" fill="none" stroke="#555" stroke-width="0.9"/>
<text class="tg" x="731" y="1174.5">AUROC</text>
</g>
</g>
</svg>
